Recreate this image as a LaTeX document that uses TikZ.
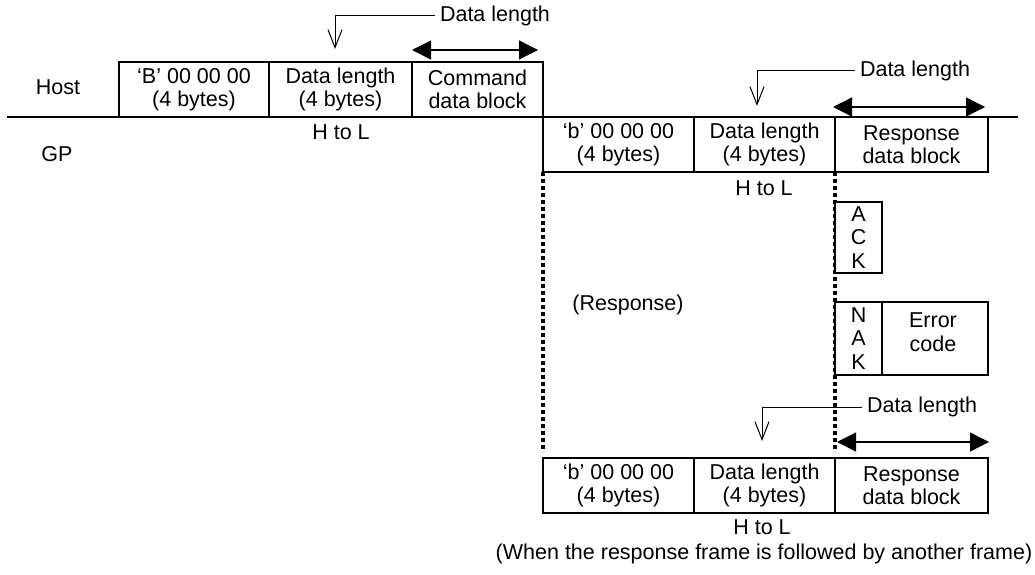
\documentclass[tikz,border=0pt]{standalone}
\usepackage{fontspec}
\setmainfont{Liberation Sans}
\usetikzlibrary{arrows.meta}
\begin{document}
\begin{tikzpicture}[x=1pt,y=-1pt,
  every node/.style={font=\fontsize{21.5}{23.5}\selectfont, inner sep=0pt},
  cell/.style={draw, line width=1.6pt, minimum height=55pt, align=center, anchor=north west, fill=white, outer sep=0pt},
  txt/.style={align=center},
  barb/.style={line width=1pt, -{Straight Barb[length=18pt,width=14pt]}},
  span/.style={line width=1.3pt, {Triangle[length=19pt,width=19pt]}-{Triangle[length=19pt,width=19pt]}},
  dots/.style={line width=3.2pt, dash pattern=on 4pt off 3pt}]
\useasboundingbox (0,0) rectangle (1035,575);

% dotted guide lines (drawn first, boxes cover them)
\coordinate (d1a) at (543,172); \coordinate (d1b) at (543,452);
\coordinate (d2a) at (835,172); \coordinate (d2b) at (835,452);
\draw[dots] (d1a) -- (d1b);
\draw[dots] (d2a) -- (d2b);

% main line
\coordinate (ml1) at (7,117); \coordinate (ml2) at (1018,117);
\draw[line width=1.6pt] (ml1) -- (ml2);

% labels
\node (host) at (58,87) {Host};
\node (gp) at (57,154) {GP};

% host frame
\node[cell, minimum width=150pt] (hb) at (119,62) {‘B’ 00 00 00\\(4 bytes)};
\node[cell, minimum width=143pt] (hl) at (hb.north east) {Data length\\(4 bytes)};
\node[cell, minimum width=131pt] (hc) at (hl.north east) {Command\\data block};
\node (htl1) at (341,132) {H to L};

\node (dl1) at (495,16) {Data length};
\coordinate (t1) at (335,49);
\draw[barb] ([xshift=-5pt]dl1.west) -| (t1);
\draw[span] ([yshift=12pt]hc.north west) -- ([xshift=-5pt,yshift=12pt]hc.north east);

% response frame
\node[cell, minimum width=151pt] (rb) at (hc.south east) {‘b’ 00 00 00\\(4 bytes)};
\node[cell, minimum width=141pt] (rl) at (rb.north east) {Data length\\(4 bytes)};
\node[cell, minimum width=153pt] (rd) at (rl.north east) {Response\\data block};
\node (htl2) at (764,188) {H to L};

\node (dl2) at (915,71) {Data length};
\coordinate (t2) at (757,106);
\draw[barb] ([xshift=-5pt]dl2.west) -| (t2);
\draw[span] ([xshift=-2pt,yshift=10pt]rd.north west) -- ([xshift=-3pt,yshift=10pt]rd.north east);

% ACK / NAK
\node[cell, minimum width=47pt, minimum height=71pt] (ack) at (835,202) {A\\C\\K};
\node[cell, minimum width=47pt, minimum height=73pt] (nak) at (835,302) {N\\A\\K};
\node[cell, minimum width=106pt, minimum height=73pt] (err) at (nak.north east) {};
\node[txt] (errt) at (933,332) {Error\\code};

\node (resp) at (628,305) {(Response)};

% following frame
\node (dl3) at (922,407) {Data length};
\coordinate (t3) at (762,441);
\draw[barb] ([xshift=-5pt]dl3.west) -| (t3);

\node[cell, minimum width=151pt] (bb) at (543,458) {‘b’ 00 00 00\\(4 bytes)};
\node[cell, minimum width=141pt] (bl) at (bb.north east) {Data length\\(4 bytes)};
\node[cell, minimum width=153pt] (bd) at (bl.north east) {Response\\data block};
\draw[span] ([xshift=2pt,yshift=16pt]bd.north west) -- ([xshift=1pt,yshift=16pt]bd.north east);
\node (htl3) at (762,527) {H to L};

\node (foot) at (764,554) {(When the response frame is followed by another frame)};
\end{tikzpicture}
\end{document}
